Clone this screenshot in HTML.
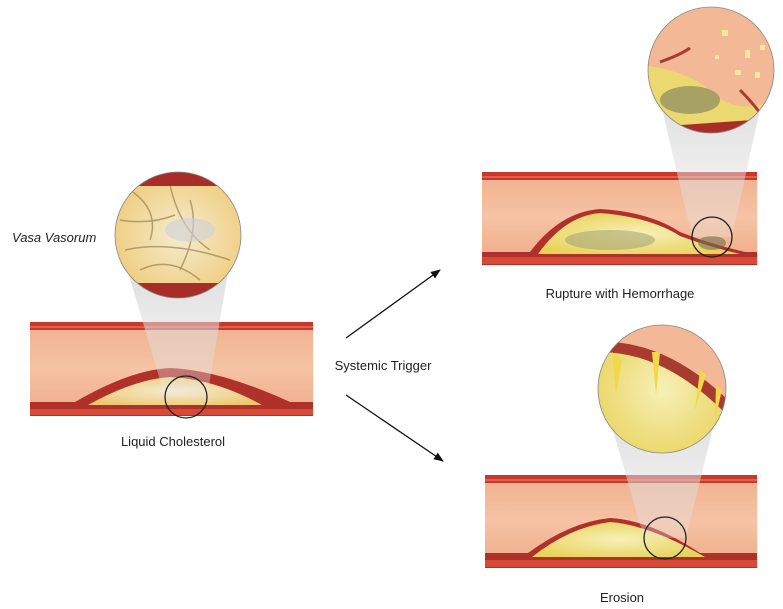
<!DOCTYPE html>
<html><head><meta charset="utf-8"><style>
body{margin:0;background:#fff;width:783px;height:609px;overflow:hidden}
svg{display:block}
text{font-family:"Liberation Sans",sans-serif;fill:#222}
</style></head><body>
<svg width="783" height="609" viewBox="0 0 783 609" xmlns="http://www.w3.org/2000/svg">
<defs>
<linearGradient id="lum" x1="0" y1="0" x2="0" y2="1">
<stop offset="0" stop-color="#f0b08e"/><stop offset="0.5" stop-color="#f6c3a4"/><stop offset="1" stop-color="#eeaa88"/></linearGradient>
<linearGradient id="cone" x1="0" y1="0" x2="0" y2="1">
<stop offset="0" stop-color="#d4d4d4" stop-opacity="0.75"/><stop offset="1" stop-color="#e6e6e6" stop-opacity="0.3"/></linearGradient>
<radialGradient id="yel" cx="0.5" cy="0.5" r="0.6">
<stop offset="0" stop-color="#f7f0b8"/><stop offset="1" stop-color="#e8d25a"/></radialGradient>
<radialGradient id="liq" cx="0.5" cy="0.5" r="0.6">
<stop offset="0" stop-color="#f5ecd0"/><stop offset="1" stop-color="#eec770"/></radialGradient>
<clipPath id="c1"><circle cx="178" cy="235" r="63"/></clipPath>
<clipPath id="c2"><circle cx="711" cy="70" r="63"/></clipPath>
<clipPath id="c3"><circle cx="662" cy="389" r="64"/></clipPath>
<marker id="ah" markerWidth="10" markerHeight="8" refX="9" refY="4" orient="auto" markerUnits="userSpaceOnUse">
<path d="M0,0 L10,4 L0,8 z" fill="#111"/></marker>
</defs>

<!-- LEFT -->
<rect x="30" y="322" width="283" height="93" fill="url(#lum)"/>
<rect x="30" y="322" width="283" height="8" fill="#c8382c"/>
<rect x="30" y="326" width="283" height="2" fill="#e0604a"/>
<path d="M30,402 L75,402 Q130,370 170,368 Q220,370 290,402 L313,402 L313,416 L30,416 Z" fill="#b0302a"/>
<rect x="30" y="409" width="283" height="6" fill="#d84a38"/>
<path d="M88,405 Q135,379 170,377 Q215,379 262,405 Z" fill="url(#liq)"/>
<polygon points="128,272 228,272 207,397 165,397" fill="url(#cone)"/>
<circle cx="186" cy="397" r="21" fill="none" stroke="#222" stroke-width="1.3"/>
<g clip-path="url(#c1)">
<rect x="110" y="170" width="140" height="130" fill="url(#liq)"/>
<path d="M130,190 Q160,210 150,240 M170,185 Q180,230 210,250 M125,250 Q170,240 230,260 M190,200 Q200,230 180,270 M140,270 Q170,255 200,280 M120,220 Q150,225 175,215" stroke="#9a8050" stroke-width="1.5" fill="none" opacity="0.7"/>
<ellipse cx="190" cy="230" rx="25" ry="12" fill="#cfd0d8" opacity="0.6"/>
<rect x="110" y="170" width="140" height="16" fill="#a82c28"/>
<rect x="110" y="283" width="140" height="20" fill="#a82c28"/>
</g>
<circle cx="178" cy="235" r="63" fill="none" stroke="#888" stroke-width="0.8"/>
<text x="12" y="242" font-size="13" font-style="italic">Vasa Vasorum</text>
<text x="173" y="446" font-size="13" text-anchor="middle">Liquid Cholesterol</text>

<!-- Arrows -->
<line x1="346" y1="338" x2="440" y2="270" stroke="#111" stroke-width="1.3" marker-end="url(#ah)"/>
<line x1="346" y1="395" x2="443" y2="461" stroke="#111" stroke-width="1.3" marker-end="url(#ah)"/>
<text x="383" y="370" font-size="13" text-anchor="middle">Systemic Trigger</text>

<!-- TOP RIGHT -->
<rect x="482" y="172" width="275" height="91" fill="url(#lum)"/>
<rect x="482" y="172" width="275" height="8" fill="#c8382c"/>
<rect x="482" y="176" width="275" height="2" fill="#e0604a"/>
<path d="M482,252 L530,252 Q560,212 600,209 Q650,212 680,232 Q710,244 745,252 L757,252 L757,265 L482,265 Z" fill="#b0302a"/>
<rect x="482" y="257" width="275" height="7" fill="#d84a38"/>
<path d="M538,254 Q565,216 600,213 Q650,217 680,236 Q710,247 740,254 Z" fill="url(#yel)"/>
<ellipse cx="610" cy="240" rx="45" ry="10" fill="#9a9a70" opacity="0.5"/>
<ellipse cx="712" cy="243" rx="14" ry="7" fill="#707050" opacity="0.6"/>
<polygon points="660,100 762,100 732,237 692,237" fill="url(#cone)"/>
<circle cx="712" cy="237" r="20" fill="none" stroke="#222" stroke-width="1.3"/>
<g clip-path="url(#c2)">
<rect x="645" y="5" width="135" height="135" fill="#f3b896"/>
<path d="M640,65 Q690,70 715,95 Q740,115 775,100 L775,140 L640,140 Z" fill="#ebd870"/>
<ellipse cx="690" cy="100" rx="30" ry="14" fill="#8a8a60" opacity="0.7"/>
<path d="M640,128 L780,118 L780,140 L640,140Z" fill="#a82c28"/>
<path d="M660,62 Q680,55 690,48 M740,90 Q755,105 765,120" stroke="#a83a30" stroke-width="3" fill="none"/>
<g fill="#f5e6a0"><rect x="722" y="30" width="6" height="6"/><rect x="745" y="50" width="5" height="8"/><rect x="735" y="70" width="6" height="5"/><rect x="760" y="45" width="5" height="5"/><rect x="715" y="55" width="4" height="4"/><rect x="755" y="72" width="5" height="6"/></g>
</g>
<circle cx="711" cy="70" r="63" fill="none" stroke="#888" stroke-width="0.8"/>
<text x="620" y="298" font-size="13" text-anchor="middle">Rupture with Hemorrhage</text>

<!-- BOTTOM RIGHT -->
<rect x="485" y="475" width="272" height="93" fill="url(#lum)"/>
<rect x="485" y="475" width="272" height="8" fill="#c8382c"/>
<rect x="485" y="479" width="272" height="2" fill="#e0604a"/>
<path d="M485,553 L528,553 Q570,522 610,518 Q650,520 700,553 L757,553 L757,568 L485,568 Z" fill="#b0302a"/>
<rect x="485" y="560" width="272" height="7" fill="#d84a38"/>
<path d="M532,557 Q570,527 610,522 Q650,525 705,557 Z" fill="url(#yel)"/>
<polygon points="610,420 715,420 686,538 644,538" fill="url(#cone)"/>
<circle cx="665" cy="538" r="21" fill="none" stroke="#222" stroke-width="1.3"/>
<g clip-path="url(#c3)">
<rect x="595" y="322" width="135" height="135" fill="url(#yel)"/>
<path d="M595,345 Q665,345 730,410 L730,320 L595,320 Z" fill="#f3b896"/>
<path d="M595,352 Q665,350 730,418 L730,402 Q665,338 595,342 Z" fill="#a83a30"/>
<g fill="#f0d848"><polygon points="612,352 622,360 616,395"/><polygon points="652,352 660,352 656,395"/><polygon points="700,370 706,375 695,410"/><polygon points="716,385 722,390 715,420"/></g>
</g>
<circle cx="662" cy="389" r="64" fill="none" stroke="#888" stroke-width="0.8"/>
<text x="622" y="602" font-size="13" text-anchor="middle">Erosion</text>
</svg>
</body></html>
